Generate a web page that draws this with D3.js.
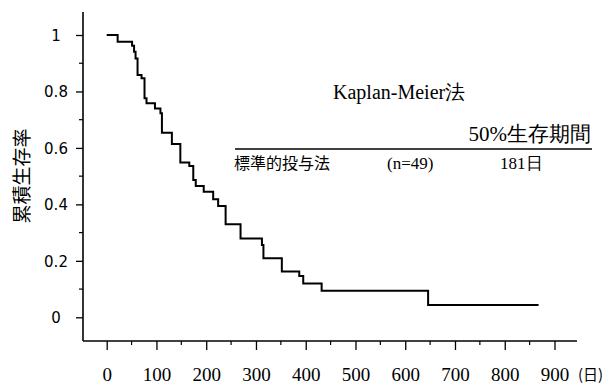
<!DOCTYPE html>
<html>
<head>
<meta charset="utf-8">
<script src="https://cdn.jsdelivr.net/npm/d3@7"></script>
<style>
  body { margin: 0; background: #fff; }
  svg { display: block; }
</style>
</head>
<body>
<div id="chart"></div>
<script>
// Données (jours, survie cumulée après chaque marche)
const stepDays = [0, 22, 51, 55, 58, 62, 70, 76, 80, 97, 108, 111, 131, 148, 166, 174, 179, 195, 214, 224, 239, 269, 312, 315, 352, 387, 395, 432, 646];
const stepSurv = [1, 0.976, 0.962, 0.941, 0.917, 0.858, 0.847, 0.776, 0.758, 0.740, 0.723, 0.654, 0.614, 0.548, 0.536, 0.486, 0.465, 0.445, 0.418, 0.394, 0.330, 0.279, 0.256, 0.209, 0.162, 0.146, 0.120, 0.094, 0.044];
const lastDay = 868;

const xTicks = [0, 100, 200, 300, 400, 500, 600, 700, 800, 900];
const xMinor = [50, 150, 250, 350, 450, 550, 650, 750, 850];
const yTicks = [0, 0.2, 0.4, 0.6, 0.8, 1];
const yMinor = [0.1, 0.3, 0.5, 0.7, 0.9];
const yLabels = ["0", "0.2", "0.4", "0.6", "0.8", "1"];

const width = 610, height = 386;
const axisX = 83, axisY = 341;

const x = d3.scaleLinear().domain([0, 900]).range([106.7, 554.5]);
const y = d3.scaleLinear().domain([0, 1]).range([317.3, 35]);

const svg = d3.select("#chart").append("svg")
  .attr("width", width)
  .attr("height", height);

const serif = "Liberation Serif, DejaVu Serif, serif";
const cjk = "Noto Sans CJK JP, Noto Sans CJK SC, sans-serif";

// axe Y
const yAxis = svg.append("g")
  .attr("transform", `translate(${axisX},0)`)
  .call(d3.axisLeft(y).tickValues(yTicks).tickSize(7).tickPadding(0)
    .tickFormat((d, i) => yLabels[i]));
yAxis.attr("font-family", null).attr("font-size", null);
yAxis.select(".domain").remove();
yAxis.selectAll(".tick line").attr("stroke", "#000").attr("stroke-width", 1.3);
yAxis.selectAll(".tick text")
  .attr("text-anchor", "middle")
  .attr("x", -27)
  .attr("dy", "0.36em")
  .attr("font-family", "DejaVu Sans, sans-serif")
  .attr("font-size", 15)
  .attr("fill", "#000");
svg.append("g")
  .attr("transform", `translate(${axisX},0)`)
  .selectAll("line").data(yMinor).join("line")
  .attr("x1", -4).attr("x2", 0)
  .attr("y1", d => y(d)).attr("y2", d => y(d))
  .attr("stroke", "#000").attr("stroke-width", 1.2);
svg.append("line")
  .attr("x1", axisX).attr("x2", axisX)
  .attr("y1", 12).attr("y2", axisY)
  .attr("stroke", "#000").attr("stroke-width", 1.6);

// axe X
const xAxis = svg.append("g")
  .attr("transform", `translate(0,${axisY})`)
  .call(d3.axisBottom(x).tickValues(xTicks).tickSize(9).tickPadding(0)
    .tickFormat(d3.format("d")));
xAxis.attr("font-family", null).attr("font-size", null);
xAxis.select(".domain").remove();
xAxis.selectAll(".tick line").attr("stroke", "#000").attr("stroke-width", 1.3);
xAxis.selectAll(".tick text")
  .attr("y", 40)
  .attr("dy", null)
  .attr("font-family", serif)
  .attr("font-size", 19)
  .attr("fill", "#000");
svg.append("g")
  .attr("transform", `translate(0,${axisY})`)
  .selectAll("line").data(xMinor).join("line")
  .attr("x1", d => x(d)).attr("x2", d => x(d))
  .attr("y1", 0).attr("y2", 4)
  .attr("stroke", "#000").attr("stroke-width", 1.2);
svg.append("line")
  .attr("x1", axisX).attr("x2", 577)
  .attr("y1", axisY).attr("y2", axisY)
  .attr("stroke", "#000").attr("stroke-width", 1.6);

svg.append("text")
  .attr("x", 578).attr("y", 380)
  .attr("font-family", cjk)
  .attr("font-size", 15)
  .text("(日)");

// titre axe Y
svg.append("text")
  .attr("transform", "translate(29,176) rotate(-90)")
  .attr("text-anchor", "middle")
  .attr("font-family", cjk)
  .attr("font-size", 19)
  .text("累積生存率");

// courbe de Kaplan-Meier
const pts = stepDays.map((d, i) => ({t: d, s: stepSurv[i]}));
pts.push({t: lastDay, s: stepSurv[stepSurv.length - 1]});
const line = d3.line()
  .x(d => x(d.t))
  .y(d => y(d.s))
  .curve(d3.curveStepAfter);
svg.append("path")
  .datum(pts)
  .attr("fill", "none")
  .attr("stroke", "#000")
  .attr("stroke-width", 2)
  .attr("d", line);

// légende
svg.append("text")
  .attr("x", 333).attr("y", 99)
  .attr("font-family", serif)
  .attr("font-size", 20)
  .text("Kaplan-Meier法");

svg.append("text")
  .attr("x", 591).attr("y", 141)
  .attr("text-anchor", "end")
  .attr("font-family", serif)
  .attr("font-size", 21)
  .text("50%生存期間");

svg.append("line")
  .attr("x1", 235).attr("x2", 592)
  .attr("y1", 149).attr("y2", 149)
  .attr("stroke", "#000").attr("stroke-width", 1.5);

svg.append("text")
  .attr("x", 234).attr("y", 169)
  .attr("font-family", cjk)
  .attr("font-size", 16)
  .text("標準的投与法");

svg.append("text")
  .attr("x", 387).attr("y", 169)
  .attr("font-family", serif)
  .attr("font-size", 17)
  .text("(n=49)");

svg.append("text")
  .attr("x", 500).attr("y", 169)
  .attr("font-family", serif)
  .attr("font-size", 17)
  .text("181日");
</script>
</body>
</html>
